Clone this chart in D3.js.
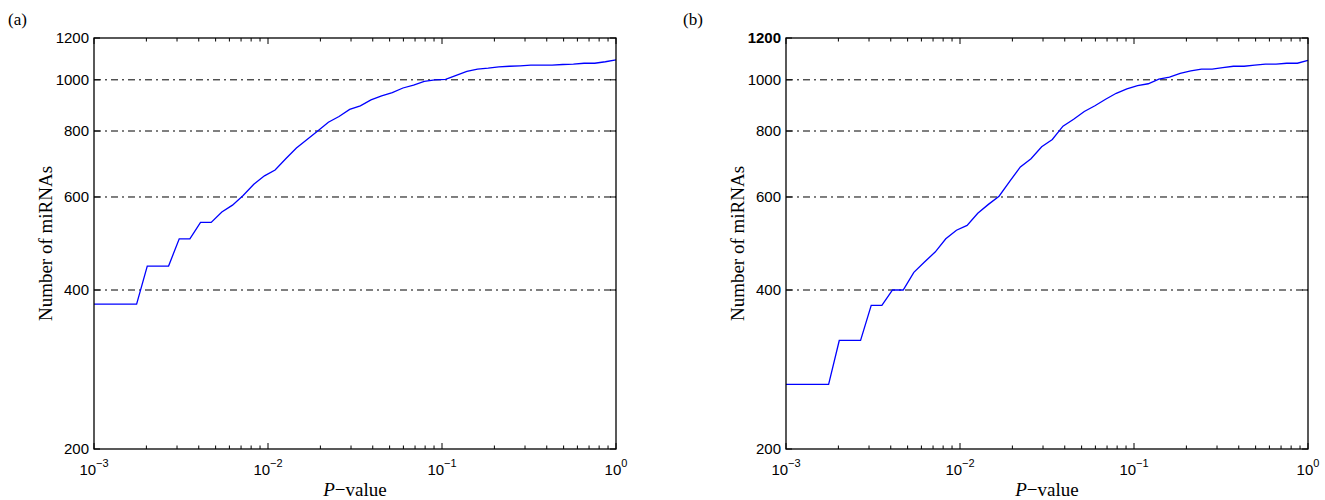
<!DOCTYPE html>
<html>
<head>
<meta charset="utf-8">
<script src="https://cdn.jsdelivr.net/npm/d3@7"></script>
<style>
  html, body { margin: 0; padding: 0; background: #fff; }
  svg { display: block; }
</style>
</head>
<body>
<svg id="chart" width="1325" height="500"></svg>
<script>
// P-value grid (x), shared by both panels
const pValues = [0.001, 0.0011514, 0.0013257, 0.0015264, 0.0017575, 0.0020236, 0.0023300, 0.0026827, 0.0030888, 0.0035565,
  0.0040949, 0.0047149, 0.0054287, 0.0062506, 0.0071969, 0.0082864, 0.0095410, 0.010985, 0.012649, 0.014563,
  0.016768, 0.019307, 0.022230, 0.025595, 0.029471, 0.033932, 0.039069, 0.044984, 0.051795, 0.059636,
  0.068665, 0.079060, 0.091030, 0.10481, 0.12068, 0.13895, 0.15999, 0.18421, 0.21210, 0.24421,
  0.28118, 0.32375, 0.37276, 0.42919, 0.49417, 0.56899, 0.65513, 0.75431, 0.86851, 1.0];

// Number of miRNAs, panel (a)
const countsA = [376, 376, 376, 376, 376, 444, 444, 444, 500, 500,
  537, 537, 562, 579, 604, 634, 658, 675, 709, 743,
  771, 800, 831, 852, 879, 893, 916, 932, 946, 965,
  977, 993, 1000, 1002, 1020, 1037, 1048, 1052, 1058, 1061,
  1063, 1066, 1066, 1066, 1069, 1071, 1075, 1075, 1082, 1091];

// Number of miRNAs, panel (b)
const countsB = [265, 265, 265, 265, 265, 321, 321, 321, 374, 374,
  400, 400, 432, 452, 472, 500, 519, 530, 559, 581,
  602, 642, 684, 709, 747, 771, 817, 842, 871, 893,
  919, 943, 961, 975, 983, 1003, 1012, 1029, 1040, 1048,
  1048, 1055, 1061, 1061, 1066, 1071, 1071, 1075, 1075, 1088];

const yTicks = [200, 400, 600, 800, 1000, 1200];
const gridValues = [400, 600, 800, 1000];
const xDomain = [1e-3, 1];
const yDomain = [200, 1200];
const panelLabels = ["(a)", "(b)"];
const yLabel = "Number of miRNAs";

const svg = d3.select("#chart");
const tickFont = "'Liberation Sans', Arial, sans-serif";
const serifFont = "'Liberation Serif', 'Times New Roman', serif";

function drawPanel(opts) {
  const { left, right, top, bottom, counts, label, labelX, yLabelX, boldTop } = opts;
  const g = svg.append("g");
  const x = d3.scaleLog().domain(xDomain).range([left, right]);
  const y = d3.scaleLog().domain(yDomain).range([bottom, top]);

  // gridlines
  g.selectAll("line.grid").data(gridValues).enter().append("line")
    .attr("x1", left).attr("x2", right)
    .attr("y1", d => y(d)).attr("y2", d => y(d))
    .attr("stroke", "#000").attr("stroke-width", 1)
    .attr("stroke-dasharray", "7,4,2,4");

  // data line
  const line = d3.line().x((d, i) => x(pValues[i])).y(d => y(d));
  g.append("path").datum(counts)
    .attr("d", line)
    .attr("fill", "none")
    .attr("stroke", "#0000ff")
    .attr("stroke-width", 1.3);

  // x ticks (bottom and top, inward)
  const xt = x.ticks();
  xt.forEach(v => {
    const major = Math.abs(Math.log10(v) - Math.round(Math.log10(v))) < 1e-9;
    const len = major ? 6 : 3.5;
    const px = x(v);
    g.append("line").attr("x1", px).attr("x2", px).attr("y1", bottom).attr("y2", bottom - len)
      .attr("stroke", "#000").attr("stroke-width", 1);
    g.append("line").attr("x1", px).attr("x2", px).attr("y1", top).attr("y2", top + len)
      .attr("stroke", "#000").attr("stroke-width", 1);
    if (major) {
      const e = Math.round(Math.log10(v));
      const t = g.append("text")
        .attr("x", px).attr("y", bottom + 26)
        .attr("text-anchor", "middle")
        .attr("font-family", tickFont).attr("font-size", 15).attr("fill", "#000");
      t.append("tspan").text("10");
      t.append("tspan").attr("dy", -8).attr("font-size", 11).text(e === 0 ? "0" : "\u2212" + Math.abs(e));
    }
  });

  // y ticks (left and right, inward)
  yTicks.forEach(v => {
    const py = y(v);
    g.append("line").attr("x1", left).attr("x2", left + 6).attr("y1", py).attr("y2", py)
      .attr("stroke", "#000").attr("stroke-width", 1);
    g.append("line").attr("x1", right).attr("x2", right - 6).attr("y1", py).attr("y2", py)
      .attr("stroke", "#000").attr("stroke-width", 1);
    g.append("text")
      .attr("x", left - 5).attr("y", py).attr("dy", "0.36em")
      .attr("text-anchor", "end")
      .attr("font-family", tickFont).attr("font-size", 15)
      .attr("font-weight", (boldTop && v === 1200) ? "bold" : "normal")
      .attr("fill", "#000").text(v);
  });

  // frame
  g.append("rect").attr("x", left).attr("y", top)
    .attr("width", right - left).attr("height", bottom - top)
    .attr("fill", "none").attr("stroke", "#000").attr("stroke-width", 1.3);

  // x label
  const xl = g.append("text")
    .attr("x", (left + right) / 2).attr("y", bottom + 47)
    .attr("text-anchor", "middle")
    .attr("font-family", serifFont).attr("font-size", 19).attr("fill", "#000");
  xl.append("tspan").attr("font-style", "italic").text("P");
  xl.append("tspan").text("\u2212value");

  // y label
  g.append("text")
    .attr("transform", `translate(${yLabelX},${(top + bottom) / 2}) rotate(-90)`)
    .attr("text-anchor", "middle")
    .attr("font-family", serifFont).attr("font-size", 19).attr("fill", "#000")
    .text(yLabel);

  // panel label
  g.append("text")
    .attr("x", labelX).attr("y", 25)
    .attr("font-family", serifFont).attr("font-size", 17).attr("fill", "#000")
    .text(label);
}

drawPanel({ left: 94, right: 616, top: 38, bottom: 449, counts: countsA, label: panelLabels[0], labelX: 8, yLabelX: 52, boldTop: false });
drawPanel({ left: 786, right: 1308, top: 38, bottom: 449, counts: countsB, label: panelLabels[1], labelX: 683, yLabelX: 744, boldTop: true });
</script>
</body>
</html>
